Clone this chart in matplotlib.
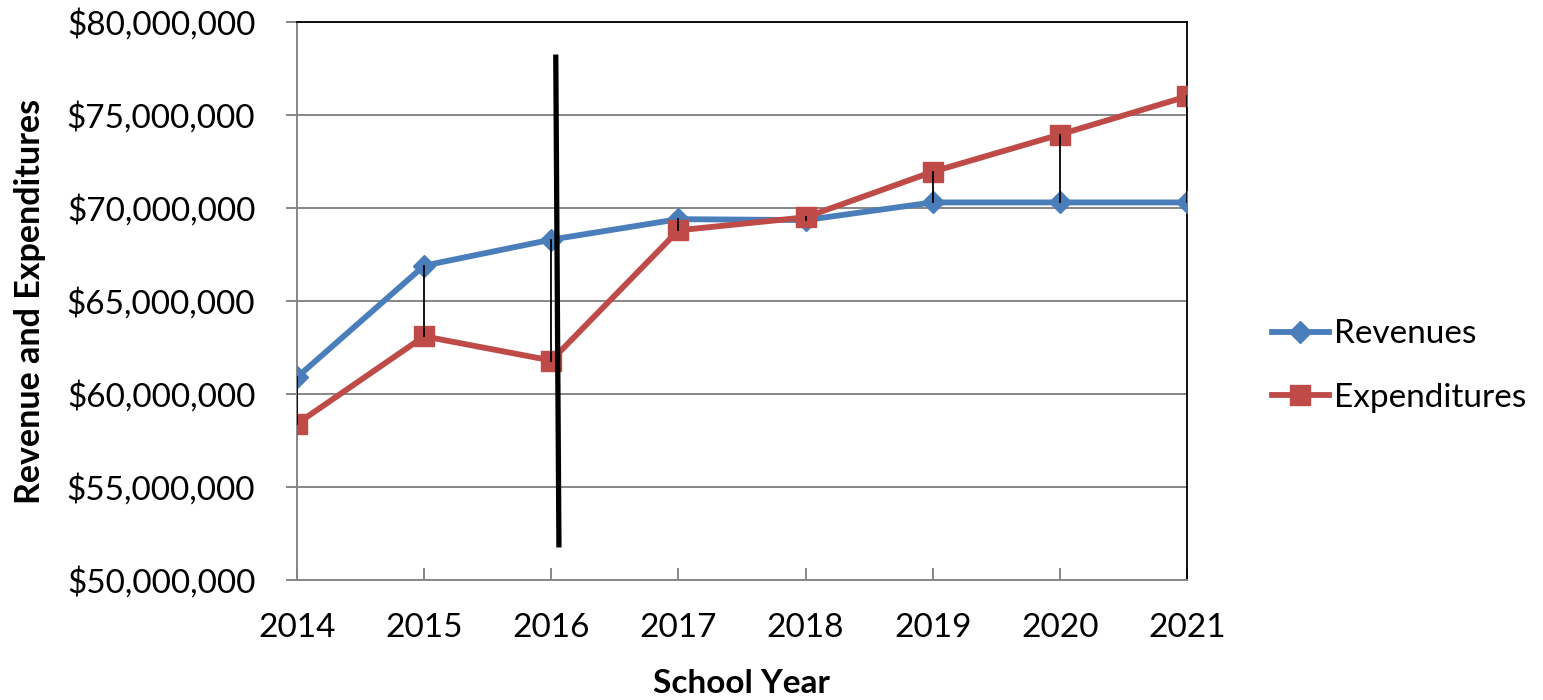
import matplotlib.pyplot as plt
from matplotlib.ticker import FuncFormatter

plt.rcParams['font.family'] = ['Lato', 'DejaVu Sans']

# data (dollars)
years = [2014, 2015, 2016, 2017, 2018, 2019, 2020, 2021]
revenues = [60.9e6, 66.9e6, 68.3e6, 69.4e6, 69.35e6, 70.3e6, 70.3e6, 70.3e6]
expenditures = [58.4e6, 63.1e6, 61.8e6, 68.8e6, 69.5e6, 71.95e6, 73.95e6, 76.0e6]
y_ticks = [50e6, 55e6, 60e6, 65e6, 70e6, 75e6, 80e6]

blue = '#4A7EBB'
red = '#BE4B48'
grid_gray = '#868686'

fig = plt.figure(figsize=(15.43, 7.0), dpi=100)
ax = fig.add_axes([0.1925, 0.1714, 0.5768, 0.7972])

# gridlines
for t in y_ticks[1:]:
    ax.axhline(t, color=grid_gray, lw=1.4, zorder=1)

ax.plot(years, revenues, color=blue, lw=4.2, marker='D', markersize=11,
        label='Revenues', zorder=3)
ax.plot(years, expenditures, color=red, lw=4.2, marker='s', markersize=14,
        label='Expenditures', zorder=3)

# drop lines between the two series
for x, r, e in zip(years, revenues, expenditures):
    ax.plot([x, x], [min(r, e), max(r, e)], color='black', lw=1.3, zorder=4)

# hand-drawn separator near 2016
ax.plot([2016.035, 2016.06], [78.25e6, 51.75e6], color='black', lw=3.8,
        solid_capstyle='butt', zorder=5)

ax.set_xlim(2014, 2021)
ax.set_ylim(50e6, 80e6)
ax.set_xticks(years)
ax.set_yticks(y_ticks)
ax.yaxis.set_major_formatter(FuncFormatter(lambda v, p: '${:,.0f}'.format(v)))

for s in ['left', 'bottom']:
    ax.spines[s].set_color(grid_gray)
    ax.spines[s].set_linewidth(1.4)
for s in ['top', 'right']:
    ax.spines[s].set_color('black')
    ax.spines[s].set_linewidth(1.3)

ax.tick_params(axis='y', direction='out', length=8, width=1.4, color=grid_gray,
               labelsize=24, pad=22)
ax.tick_params(axis='x', direction='in', length=8.5, width=1.4, color=grid_gray,
               labelsize=24, pad=24)

ax.set_xlabel('School Year', fontsize=24, fontweight='bold')
ax.set_ylabel('Revenue and Expenditures', fontsize=24.5, fontweight='bold')
ax.xaxis.set_label_coords(0.499, -0.16)
ax.yaxis.set_label_coords(-0.282, 0.5)

fig.legend(loc='center left', bbox_to_anchor=(0.805, 0.477), frameon=False,
           fontsize=24, handlelength=1.7, handletextpad=0.15, labelspacing=1.0)

fig.savefig('out.png', dpi=100)
